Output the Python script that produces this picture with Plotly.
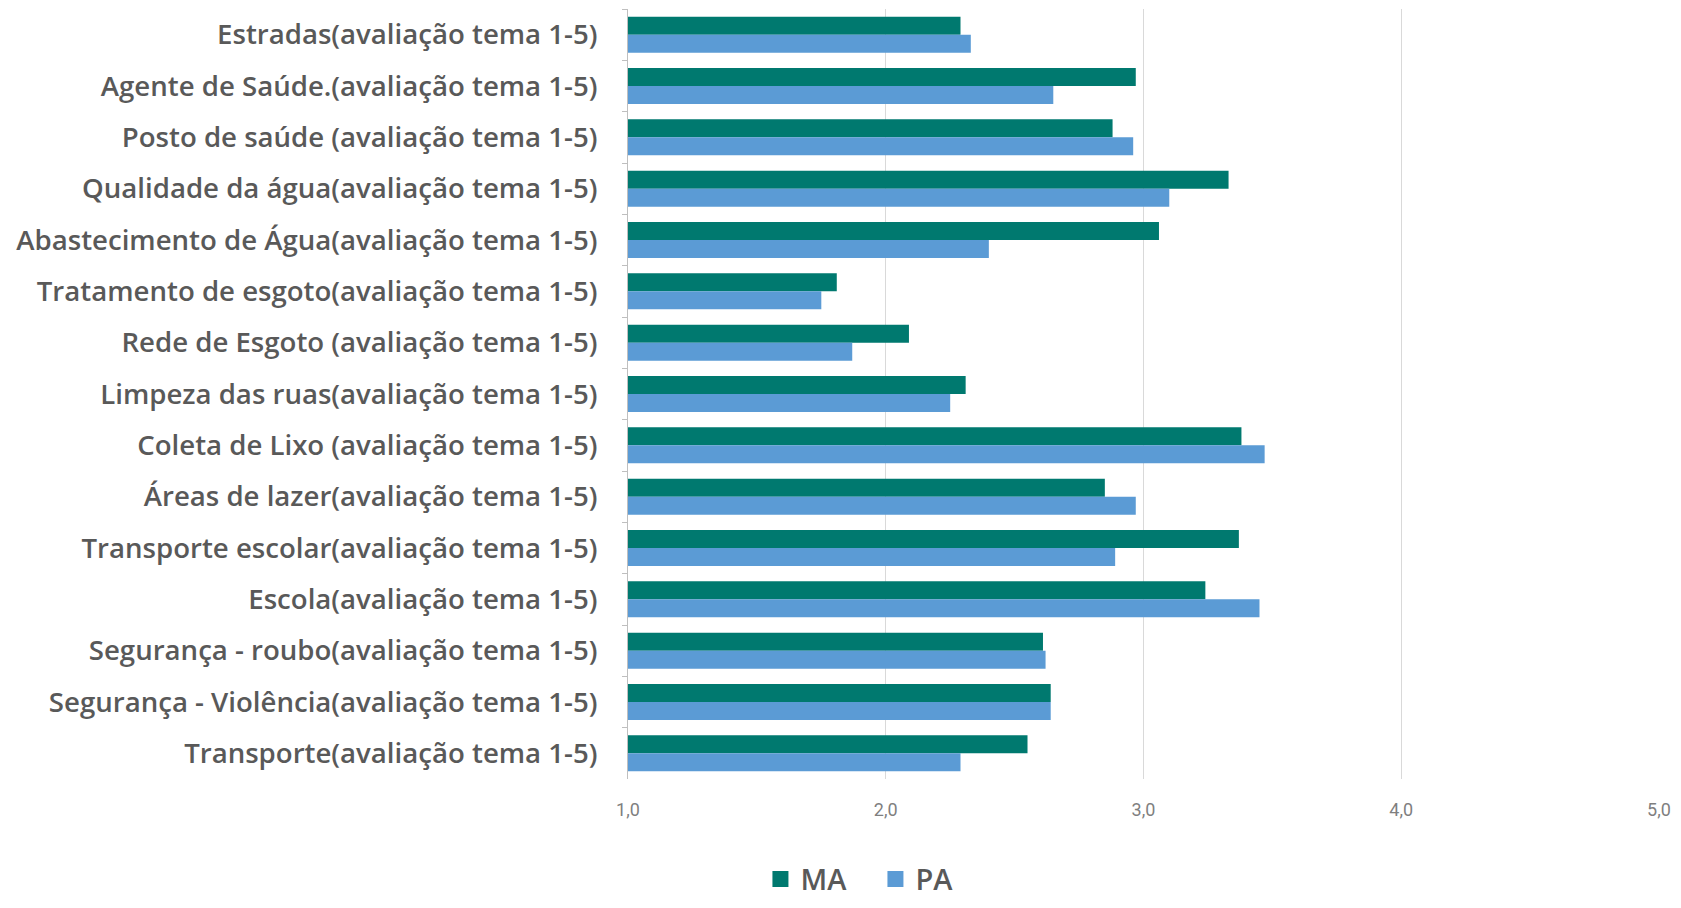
import plotly.graph_objects as go

categories = [
    "Estradas(avaliação tema 1-5)",
    "Agente de Saúde.(avaliação tema 1-5)",
    "Posto de saúde (avaliação tema 1-5)",
    "Qualidade da água(avaliação tema 1-5)",
    "Abastecimento de Água(avaliação tema 1-5)",
    "Tratamento de esgoto(avaliação tema 1-5)",
    "Rede de Esgoto (avaliação tema 1-5)",
    "Limpeza das ruas(avaliação tema 1-5)",
    "Coleta de Lixo (avaliação tema 1-5)",
    "Áreas de lazer(avaliação tema 1-5)",
    "Transporte escolar(avaliação tema 1-5)",
    "Escola(avaliação tema 1-5)",
    "Segurança - roubo(avaliação tema 1-5)",
    "Segurança - Violência(avaliação tema 1-5)",
    "Transporte(avaliação tema 1-5)",
]

series_names = ["MA", "PA"]
ma_values = [2.29, 2.97, 2.88, 3.33, 3.06, 1.81, 2.09, 2.31, 3.38, 2.85, 3.37, 3.24, 2.61, 2.64, 2.55]
pa_values = [2.33, 2.65, 2.96, 3.10, 2.40, 1.75, 1.87, 2.25, 3.47, 2.97, 2.89, 3.45, 2.62, 2.64, 2.29]

x_tick_values = [1, 2, 3, 4, 5]
x_tick_labels = ["1,0", "2,0", "3,0", "4,0", "5,0"]

MA_COLOR = "#00796F"
PA_COLOR = "#5B9BD5"

fig = go.Figure()
for name, vals, col in [(series_names[0], ma_values, MA_COLOR), (series_names[1], pa_values, PA_COLOR)]:
    fig.add_trace(go.Bar(
        name=name, y=categories, x=vals, orientation="h",
        marker=dict(color=col, line=dict(width=0)),
        legendgroup=name, showlegend=False,
    ))
# legend proxies (larger square swatches, like the reference legend)
for name, col in [(series_names[0], MA_COLOR), (series_names[1], PA_COLOR)]:
    fig.add_trace(go.Scatter(
        name=name, x=[None], y=[None], mode="markers",
        marker=dict(symbol="square", size=18, color=col),
        legendgroup=name, showlegend=True, hoverinfo="skip",
    ))

fig.update_layout(
    width=1665, height=892,
    paper_bgcolor="white", plot_bgcolor="white",
    barmode="group", bargap=0.3, bargroupgap=0.0,
    margin=dict(l=620, r=14, t=1, b=121, autoexpand=False),
    font=dict(family="'Open Sans', sans-serif", color="#595959"),
    legend=dict(
        orientation="h", x=0.24, xanchor="center", y=-0.13, yanchor="middle",
        font=dict(size=29, color="#595959", family="'Open Sans', sans-serif", weight=600),
        traceorder="normal", itemsizing="trace", itemwidth=30,
        entrywidth=70, entrywidthmode="pixels",
    ),
    showlegend=True,
)

fig.update_xaxes(
    range=[1, 5], tickvals=x_tick_values, ticktext=x_tick_labels,
    showgrid=True, gridcolor="#D9D9D9", gridwidth=1,
    zeroline=False, showline=False, ticks="",
    tickfont=dict(size=18, color="#7F7F7F", family="Roboto, sans-serif"),
    ticklabelstandoff=18,
)

fig.update_yaxes(
    autorange="reversed", type="category",
    showline=True, linecolor="#BFBFBF", linewidth=1,
    ticks="outside", ticklen=5, tickcolor="#BFBFBF", tickson="boundaries",
    tickfont=dict(size=27.6, color="#595959", family="'Open Sans', sans-serif", weight=600),
    ticklabelstandoff=24, showgrid=False,
)

fig.write_html("out.html")
